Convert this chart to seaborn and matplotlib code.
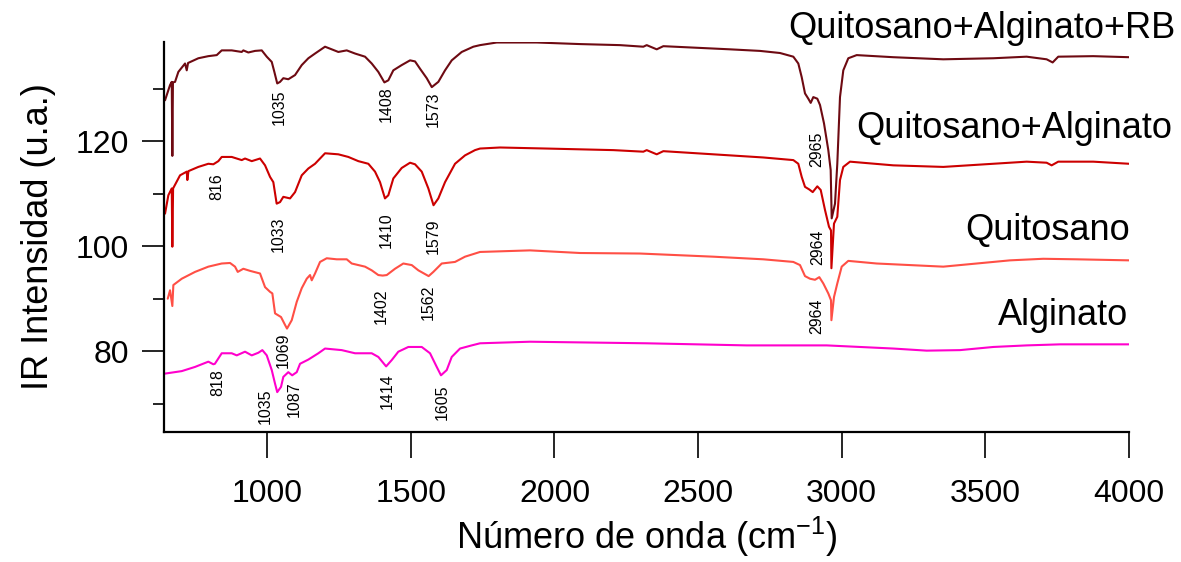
import numpy as np
import pandas as pd
import seaborn as sns
import matplotlib
matplotlib.use("Agg")
import matplotlib.pyplot as plt

# espectros (numero de onda, intensidad)
rb_wn = [644.5, 661.9, 667.8, 669.9, 672, 679.3, 690.8, 714.1, 720, 724.6, 760.4, 795.2, 824.4, 841.8,
         876.6, 911.4, 917, 934.4, 957.7, 981.1, 998.5, 1015.9, 1025, 1035, 1044.8, 1056.2, 1073.6,
         1097, 1120.3, 1143.3, 1166.6, 1201.4, 1224.7, 1247.7, 1276.9, 1305.8, 1340.6, 1363.9, 1386.9,
         1408, 1421.7, 1439.1, 1468.3, 1497.3, 1514.7, 1532.1, 1555.4, 1573, 1595.8, 1619.1, 1642.4,
         1677.2, 1717.6, 1740.9, 1799, 1938.2, 2089, 2228.2, 2309.3, 2321.1, 2355.9, 2378.9, 2495.1,
         2611, 2715.5, 2785, 2831.4, 2848.8, 2860.6, 2872.1, 2883.6, 2891.9, 2901, 2914.9, 2924.3,
         2938.2, 2953.2, 2961.5, 2965, 2976.5, 2984.5, 2993.9, 3005.4, 3022.8, 3052, 3179.4, 3353.4,
         3527.5, 3643.6, 3713.2, 3734.1, 3753.6, 3875.4, 4000]
rb_int = [127.8, 130.7, 131.3, 117.2, 131.2, 131.3, 133.2, 134.8, 133.5, 134.9, 135.8, 136.2, 136.4, 137.3,
          137.3, 137.0, 137.3, 136.9, 137.2, 137.3, 136.1, 135.1, 133.2, 131.0, 131.3, 132.0, 131.8,
          132.6, 134.5, 135.8, 136.7, 138.0, 137.5, 137.0, 137.3, 136.7, 136.1, 134.8, 133.2,
          131.2, 131.6, 133.5, 134.5, 135.4, 135.2, 133.8, 132.0, 130.3, 131.3, 133.5, 135.4,
          137.0, 138.0, 138.3, 138.8, 138.8, 138.5, 138.3, 138.0, 138.3, 137.5, 138.1, 137.8,
          137.5, 137.2, 136.8, 136.1, 134.8, 132.2, 129.1, 128.1, 127.3, 128.4, 128.1, 126.9,
          123.4, 118.3, 114.5, 105.3, 108.1, 115.7, 128.4, 133.5, 135.8, 136.4, 136.0, 135.6,
          135.8, 136.1, 135.6, 135.0, 136.1, 136.2, 136.0]

qa_wn = [644.5, 656, 667.8, 669.9, 672.5, 696.7, 720, 722.1, 726, 760.4, 795.2, 812.6, 830, 841.8,
         876.6, 911.4, 922.9, 946.3, 975.1, 992.6, 1010, 1021.4, 1033, 1044.8, 1056.2, 1079.6, 1097,
         1120.3, 1143.3, 1166.6, 1201.4, 1247.7, 1282.5, 1317.3, 1352.1, 1375.4, 1392.8, 1410, 1421.7,
         1439.1, 1468.3, 1497.3, 1514.7, 1538, 1561, 1579, 1595.8, 1619.1, 1653.9, 1688.7, 1723.5,
         1740.9, 1810.5, 1973, 2204.9, 2309.3, 2321.1, 2355.9, 2378.9, 2552.9, 2726.9, 2831.4, 2848.8,
         2860.6, 2872.1, 2887.1, 2898.9, 2914.9, 2926.8, 2941.7, 2955.6, 2962.6, 2964, 2973, 2984.5,
         2993.9, 3005.4, 3028.7, 3179.4, 3353.4, 3527.5, 3643.6, 3713.2, 3730.6, 3753.6, 3875.4, 4000]
qa_int = [106.2, 109.7, 111.0, 99.9, 111.0, 113.5, 114.2, 112.6, 114.3, 115.1, 115.7, 115.6, 116.2, 117.0,
          117.0, 116.4, 116.7, 116.2, 116.7, 115.4, 113.2, 112.2, 108.1, 108.4, 109.4, 109.1, 110.3,
          113.5, 114.8, 115.7, 117.7, 117.5, 117.0, 116.2, 115.7, 114.2, 112.2, 109.1, 109.7,
          112.9, 114.9, 115.9, 115.6, 114.2, 111.0, 107.8, 109.1, 112.2, 115.7, 117.3, 118.3,
          118.6, 118.8, 118.6, 118.3, 118.0, 118.3, 117.5, 118.1, 117.5, 116.9, 116.4, 115.7,
          113.2, 111.3, 110.8, 110.3, 111.4, 110.7, 106.9, 103.7, 103.0, 95.8, 104.3, 105.6,
          112.6, 115.1, 116.1, 115.4, 115.1, 115.7, 116.1, 115.9, 115.4, 116.1, 116.1, 115.7]

q_wn = [653.9, 661.9, 669.9, 673.4, 702.6, 748.9, 795.2, 841.8, 870.7, 888.1, 897.5, 917, 940.3, 975.1,
        992.6, 1010, 1018, 1027.4, 1048.2, 1062.2, 1069, 1085.5, 1102.9, 1120.3, 1137.7, 1149.2, 1155.1,
        1166.6, 1184, 1207.3, 1242.1, 1276.9, 1294.3, 1340.6, 1363.9, 1386.9, 1402, 1416.2, 1445, 1473.9,
        1503.2, 1526.2, 1562, 1578.4, 1607.6, 1653.9, 1688.7, 1723.5, 1740.9, 1914.9, 2089, 2297.8,
        2552.9, 2726.9, 2831.4, 2854.7, 2872.1, 2889.5, 2906.9, 2921.9, 2935.8, 2953.2, 2962.6, 2964,
        2973, 2984.5, 2999.8, 3022.8, 3121.6, 3353.4, 3469.7, 3585.5, 3701.4, 3817.6, 4000]
q_int = [90.0, 91.6, 88.6, 92.6, 93.8, 95.1, 96.1, 96.7, 96.8, 96.1, 95.1, 95.7, 95.3, 94.8,
         92.2, 91.3, 91.0, 87.2, 86.5, 85.0, 84.3, 85.9, 89.4, 92.0, 93.8, 94.5, 93.5,
         94.8, 97.0, 97.7, 97.5, 97.5, 96.7, 96.1, 95.4, 94.5, 94.4, 94.5, 95.7, 96.7,
         96.4, 95.4, 94.3, 95.1, 96.7, 97.0, 98.0, 98.6, 98.9, 99.2, 98.7, 98.6,
         98.0, 97.5, 97.0, 96.4, 94.3, 93.8, 93.6, 94.1, 92.9, 91.0, 89.7, 85.9,
         90.3, 92.9, 96.1, 97.2, 96.7, 96.1, 96.7, 97.3, 97.6, 97.5, 97.3]

alg_wn = [641, 702.6, 748.9, 795.2, 812.6, 818, 841.8, 876.6, 894, 922.9, 946.3, 969.2, 983.2, 998.5,
          1015.9, 1027.4, 1035, 1048.2, 1056.2, 1073.6, 1087, 1102.9, 1114.4, 1143.3, 1178.1, 1201.4,
          1259.5, 1305.8, 1363.9, 1386.9, 1414, 1433.5, 1456.5, 1491.3, 1538, 1566.9, 1590.2, 1605,
          1625, 1642.4, 1671.3, 1712, 1740.9, 1914.9, 2321.1, 2669.1, 2947.6, 3179.4, 3295.6, 3411.6,
          3527.5, 3643.6, 3759.7, 4000]
alg_int = [75.7, 76.2, 77.0, 78.0, 77.5, 77.6, 79.6, 79.6, 79.2, 79.9, 79.2, 79.7, 80.2, 79.2,
           76.4, 73.8, 72.2, 73.2, 75.1, 76.0, 75.4, 76.0, 77.6, 78.4, 79.6, 80.5,
           80.2, 79.6, 79.6, 78.9, 77.1, 78.3, 79.9, 80.8, 80.8, 79.6, 77.0, 75.4,
           76.4, 78.9, 80.5, 81.1, 81.5, 81.8, 81.5, 81.1, 81.1, 80.5, 80.1, 80.2,
           80.8, 81.1, 81.3, 81.3]

muestras = ["Quitosano+Alginato+RB", "Quitosano+Alginato", "Quitosano", "Alginato"]
colores = ["#6E0A12", "#CC0000", "#FF4F45", "#FF00CC"]

# etiquetas de picos: (numero, x, y) por muestra
picos_wn = [1035, 1408, 1573, 2965, 816, 1033, 1410, 1579, 2964, 1069, 1402, 1562, 2964,
            818, 1035, 1087, 1414, 1605]
picos_x = [1041, 1414, 1577, 2914, 825, 1038, 1414, 1577, 2917, 1055, 1396, 1560, 2914,
           829, 993, 1093, 1417, 1609]
picos_y = [126.5, 127.0, 126.1, 118.5, 111.4, 102.3, 103.1, 101.9, 99.8, 80.2, 88.6, 89.3, 86.7,
           74.1, 69.5, 70.9, 72.4, 70.3]

nombre_x = [4160, 4149, 4003, 3996]
nombre_y = [141.5, 122.5, 103.0, 86.7]

frames = []
for m, wn, it in zip(muestras, [rb_wn, qa_wn, q_wn, alg_wn], [rb_int, qa_int, q_int, alg_int]):
    frames.append(pd.DataFrame({"wn": wn, "I": it, "muestra": m}))
df = pd.concat(frames, ignore_index=True)

sns.set_theme(style="ticks")
plt.rcParams["font.family"] = ["Liberation Sans", "DejaVu Sans"]
plt.rcParams["mathtext.fontset"] = "custom"
plt.rcParams["mathtext.rm"] = "Liberation Sans"
plt.rcParams["mathtext.it"] = "Liberation Sans"
plt.rcParams["text.color"] = "black"
plt.rcParams["axes.labelcolor"] = "black"
plt.rcParams["xtick.color"] = "black"
plt.rcParams["ytick.color"] = "black"

fig = plt.figure(figsize=(11.81, 5.62), dpi=100)
ax = fig.add_axes([0.1389, 0.2313, 0.8171, 0.694])

sns.lineplot(data=df, x="wn", y="I", hue="muestra", hue_order=muestras,
             palette=dict(zip(muestras, colores)), estimator=None, sort=False,
             legend=False, linewidth=1.5, ax=ax)

for t, x, y in zip(picos_wn, picos_x, picos_y):
    ax.text(x, y, str(t), rotation=90, ha="center", va="center", fontsize=11.5, color="black")

for m, x, y in zip(muestras, nombre_x, nombre_y):
    ax.text(x, y, m, ha="right", va="center", fontsize=26, color="black", clip_on=False)

ax.set_xlim(641, 4000)
ax.set_ylim(64.6, 138.9)
ax.set_xticks([1000, 1500, 2000, 2500, 3000, 3500, 4000])
ax.set_yticks([80, 100, 120])
ax.set_yticks([70, 90, 110, 130], minor=True)
ax.tick_params(axis="x", direction="out", length=19, width=1.2, pad=15, labelsize=23, colors="black")
ax.tick_params(axis="y", which="major", direction="out", length=16, width=1.2, pad=9, labelsize=23,
               colors="black")
ax.tick_params(axis="y", which="minor", direction="out", length=8, width=1.2, colors="black")
sns.despine(ax=ax)
for s in ["left", "bottom"]:
    ax.spines[s].set_linewidth(1.6)
    ax.spines[s].set_color("black")

ax.set_xlabel(r"Número de onda (cm$^{-1}$)", fontsize=26, labelpad=4, color="black")
ax.set_ylabel("IR Intensidad (u.a.)", fontsize=26, labelpad=14, color="black")

fig.savefig("out.png", dpi=100)
